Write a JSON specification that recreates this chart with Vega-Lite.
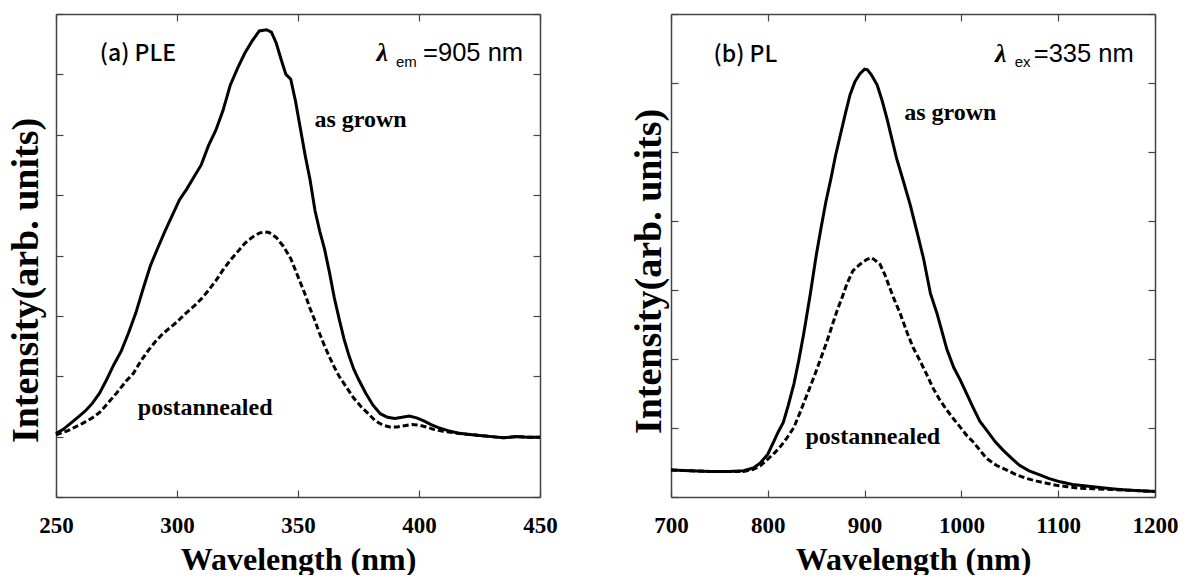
{
  "$schema": "https://vega.github.io/schema/vega-lite/v6.json",
  "padding": {"left": 7, "top": 13, "right": 0, "bottom": 0},
  "autosize": {"type": "pad"},
  "background": "white",
  "bounds": "flush",
  "spacing": 131,
  "config": {
    "view": {"stroke": null},
    "axis": {
      "grid": false,
      "domainColor": "#444",
      "domainWidth": 1.5,
      "tickColor": "#444",
      "tickWidth": 1.2,
      "tickSize": -7,
      "labelFont": "Liberation Serif",
      "labelFontWeight": "bold",
      "labelFontSize": 23,
      "labelColor": "black",
      "labelFlush": false,
      "labelOverlap": false,
      "format": "d",
      "titleFont": "Liberation Serif",
      "titleFontWeight": "bold",
      "titleColor": "black"
    }
  },
  "datasets": {
    "ple": [
      {"wl":250,"intensity":1.05,"sample":"as grown"},{"wl":253,"intensity":1.12,"sample":"as grown"},{"wl":256,"intensity":1.22,"sample":"as grown"},{"wl":259,"intensity":1.32,"sample":"as grown"},{"wl":262,"intensity":1.42,"sample":"as grown"},{"wl":265,"intensity":1.55,"sample":"as grown"},{"wl":268,"intensity":1.72,"sample":"as grown"},{"wl":271,"intensity":1.95,"sample":"as grown"},{"wl":274,"intensity":2.2,"sample":"as grown"},{"wl":277,"intensity":2.42,"sample":"as grown"},{"wl":280,"intensity":2.72,"sample":"as grown"},{"wl":283,"intensity":3.05,"sample":"as grown"},{"wl":286,"intensity":3.45,"sample":"as grown"},{"wl":289,"intensity":3.83,"sample":"as grown"},{"wl":292,"intensity":4.12,"sample":"as grown"},{"wl":295,"intensity":4.4,"sample":"as grown"},{"wl":298,"intensity":4.66,"sample":"as grown"},{"wl":301,"intensity":4.92,"sample":"as grown"},{"wl":304,"intensity":5.1,"sample":"as grown"},{"wl":307,"intensity":5.3,"sample":"as grown"},{"wl":310,"intensity":5.5,"sample":"as grown"},{"wl":313,"intensity":5.82,"sample":"as grown"},{"wl":316,"intensity":6.07,"sample":"as grown"},{"wl":319,"intensity":6.4,"sample":"as grown"},{"wl":322,"intensity":6.82,"sample":"as grown"},{"wl":325,"intensity":7.1,"sample":"as grown"},{"wl":328,"intensity":7.35,"sample":"as grown"},{"wl":331,"intensity":7.55,"sample":"as grown"},{"wl":334,"intensity":7.72,"sample":"as grown"},{"wl":337,"intensity":7.74,"sample":"as grown"},{"wl":339,"intensity":7.7,"sample":"as grown"},{"wl":341,"intensity":7.52,"sample":"as grown"},{"wl":343,"intensity":7.25,"sample":"as grown"},{"wl":345,"intensity":7.0,"sample":"as grown"},{"wl":347,"intensity":6.92,"sample":"as grown"},{"wl":349,"intensity":6.55,"sample":"as grown"},{"wl":351,"intensity":6.1,"sample":"as grown"},{"wl":353,"intensity":5.65,"sample":"as grown"},{"wl":355,"intensity":5.25,"sample":"as grown"},{"wl":357,"intensity":4.75,"sample":"as grown"},{"wl":359,"intensity":4.4,"sample":"as grown"},{"wl":361,"intensity":4.1,"sample":"as grown"},{"wl":363,"intensity":3.72,"sample":"as grown"},{"wl":365,"intensity":3.3,"sample":"as grown"},{"wl":367,"intensity":2.95,"sample":"as grown"},{"wl":369,"intensity":2.62,"sample":"as grown"},{"wl":371,"intensity":2.35,"sample":"as grown"},{"wl":373,"intensity":2.12,"sample":"as grown"},{"wl":375,"intensity":1.95,"sample":"as grown"},{"wl":378,"intensity":1.72,"sample":"as grown"},{"wl":381,"intensity":1.52,"sample":"as grown"},{"wl":384,"intensity":1.38,"sample":"as grown"},{"wl":387,"intensity":1.32,"sample":"as grown"},{"wl":390,"intensity":1.3,"sample":"as grown"},{"wl":393,"intensity":1.32,"sample":"as grown"},{"wl":396,"intensity":1.34,"sample":"as grown"},{"wl":399,"intensity":1.31,"sample":"as grown"},{"wl":402,"intensity":1.26,"sample":"as grown"},{"wl":405,"intensity":1.2,"sample":"as grown"},{"wl":408,"intensity":1.15,"sample":"as grown"},{"wl":412,"intensity":1.1,"sample":"as grown"},{"wl":416,"intensity":1.06,"sample":"as grown"},{"wl":420,"intensity":1.04,"sample":"as grown"},{"wl":425,"intensity":1.02,"sample":"as grown"},{"wl":430,"intensity":1.0,"sample":"as grown"},{"wl":435,"intensity":0.98,"sample":"as grown"},{"wl":440,"intensity":1.0,"sample":"as grown"},{"wl":445,"intensity":0.99,"sample":"as grown"},{"wl":450,"intensity":0.99,"sample":"as grown"},
      {"wl":250,"intensity":1.03,"sample":"postannealed"},{"wl":255,"intensity":1.1,"sample":"postannealed"},{"wl":261,"intensity":1.22,"sample":"postannealed"},{"wl":265,"intensity":1.31,"sample":"postannealed"},{"wl":268,"intensity":1.4,"sample":"postannealed"},{"wl":272,"intensity":1.58,"sample":"postannealed"},{"wl":275,"intensity":1.72,"sample":"postannealed"},{"wl":279,"intensity":1.92,"sample":"postannealed"},{"wl":282,"intensity":2.05,"sample":"postannealed"},{"wl":285,"intensity":2.25,"sample":"postannealed"},{"wl":288,"intensity":2.42,"sample":"postannealed"},{"wl":291,"intensity":2.57,"sample":"postannealed"},{"wl":294,"intensity":2.7,"sample":"postannealed"},{"wl":297,"intensity":2.8,"sample":"postannealed"},{"wl":300,"intensity":2.9,"sample":"postannealed"},{"wl":303,"intensity":3.02,"sample":"postannealed"},{"wl":307,"intensity":3.16,"sample":"postannealed"},{"wl":310,"intensity":3.28,"sample":"postannealed"},{"wl":313,"intensity":3.42,"sample":"postannealed"},{"wl":316,"intensity":3.58,"sample":"postannealed"},{"wl":319,"intensity":3.76,"sample":"postannealed"},{"wl":322,"intensity":3.92,"sample":"postannealed"},{"wl":325,"intensity":4.06,"sample":"postannealed"},{"wl":328,"intensity":4.2,"sample":"postannealed"},{"wl":331,"intensity":4.3,"sample":"postannealed"},{"wl":334,"intensity":4.37,"sample":"postannealed"},{"wl":336,"intensity":4.39,"sample":"postannealed"},{"wl":338,"intensity":4.38,"sample":"postannealed"},{"wl":341,"intensity":4.3,"sample":"postannealed"},{"wl":344,"intensity":4.15,"sample":"postannealed"},{"wl":347,"intensity":3.95,"sample":"postannealed"},{"wl":350,"intensity":3.65,"sample":"postannealed"},{"wl":353,"intensity":3.35,"sample":"postannealed"},{"wl":355,"intensity":3.12,"sample":"postannealed"},{"wl":357,"intensity":2.92,"sample":"postannealed"},{"wl":359,"intensity":2.7,"sample":"postannealed"},{"wl":361,"intensity":2.5,"sample":"postannealed"},{"wl":363,"intensity":2.32,"sample":"postannealed"},{"wl":365,"intensity":2.15,"sample":"postannealed"},{"wl":367,"intensity":2.0,"sample":"postannealed"},{"wl":370,"intensity":1.82,"sample":"postannealed"},{"wl":373,"intensity":1.64,"sample":"postannealed"},{"wl":376,"intensity":1.5,"sample":"postannealed"},{"wl":379,"intensity":1.38,"sample":"postannealed"},{"wl":382,"intensity":1.26,"sample":"postannealed"},{"wl":385,"intensity":1.19,"sample":"postannealed"},{"wl":388,"intensity":1.16,"sample":"postannealed"},{"wl":391,"intensity":1.16,"sample":"postannealed"},{"wl":394,"intensity":1.18,"sample":"postannealed"},{"wl":397,"intensity":1.2,"sample":"postannealed"},{"wl":400,"intensity":1.19,"sample":"postannealed"},{"wl":403,"intensity":1.16,"sample":"postannealed"},{"wl":406,"intensity":1.12,"sample":"postannealed"},{"wl":410,"intensity":1.09,"sample":"postannealed"},{"wl":415,"intensity":1.06,"sample":"postannealed"},{"wl":420,"intensity":1.04,"sample":"postannealed"},{"wl":425,"intensity":1.02,"sample":"postannealed"},{"wl":430,"intensity":1.0,"sample":"postannealed"},{"wl":435,"intensity":0.98,"sample":"postannealed"},{"wl":440,"intensity":1.0,"sample":"postannealed"},{"wl":445,"intensity":0.99,"sample":"postannealed"},{"wl":450,"intensity":0.99,"sample":"postannealed"}
    ],
    "pl": [
      {"wl":700,"intensity":0.39,"sample":"as grown"},{"wl":720,"intensity":0.38,"sample":"as grown"},{"wl":740,"intensity":0.37,"sample":"as grown"},{"wl":760,"intensity":0.37,"sample":"as grown"},{"wl":775,"intensity":0.38,"sample":"as grown"},{"wl":785,"intensity":0.42,"sample":"as grown"},{"wl":792,"intensity":0.49,"sample":"as grown"},{"wl":800,"intensity":0.62,"sample":"as grown"},{"wl":806,"intensity":0.8,"sample":"as grown"},{"wl":811,"intensity":0.95,"sample":"as grown"},{"wl":816,"intensity":1.08,"sample":"as grown"},{"wl":821,"intensity":1.32,"sample":"as grown"},{"wl":827,"intensity":1.64,"sample":"as grown"},{"wl":832,"intensity":1.98,"sample":"as grown"},{"wl":837,"intensity":2.36,"sample":"as grown"},{"wl":844,"intensity":2.95,"sample":"as grown"},{"wl":850,"intensity":3.5,"sample":"as grown"},{"wl":855,"intensity":3.9,"sample":"as grown"},{"wl":860,"intensity":4.28,"sample":"as grown"},{"wl":865,"intensity":4.6,"sample":"as grown"},{"wl":870,"intensity":4.95,"sample":"as grown"},{"wl":875,"intensity":5.25,"sample":"as grown"},{"wl":880,"intensity":5.55,"sample":"as grown"},{"wl":885,"intensity":5.83,"sample":"as grown"},{"wl":890,"intensity":6.02,"sample":"as grown"},{"wl":895,"intensity":6.13,"sample":"as grown"},{"wl":900,"intensity":6.2,"sample":"as grown"},{"wl":903,"intensity":6.19,"sample":"as grown"},{"wl":907,"intensity":6.12,"sample":"as grown"},{"wl":913,"intensity":5.97,"sample":"as grown"},{"wl":918,"intensity":5.75,"sample":"as grown"},{"wl":923,"intensity":5.49,"sample":"as grown"},{"wl":928,"intensity":5.2,"sample":"as grown"},{"wl":933,"intensity":4.91,"sample":"as grown"},{"wl":940,"intensity":4.58,"sample":"as grown"},{"wl":947,"intensity":4.24,"sample":"as grown"},{"wl":954,"intensity":3.85,"sample":"as grown"},{"wl":961,"intensity":3.45,"sample":"as grown"},{"wl":968,"intensity":2.95,"sample":"as grown"},{"wl":975,"intensity":2.65,"sample":"as grown"},{"wl":985,"intensity":2.14,"sample":"as grown"},{"wl":992,"intensity":1.88,"sample":"as grown"},{"wl":999,"intensity":1.69,"sample":"as grown"},{"wl":1006,"intensity":1.48,"sample":"as grown"},{"wl":1012,"intensity":1.3,"sample":"as grown"},{"wl":1019,"intensity":1.1,"sample":"as grown"},{"wl":1026,"intensity":0.97,"sample":"as grown"},{"wl":1035,"intensity":0.8,"sample":"as grown"},{"wl":1043,"intensity":0.68,"sample":"as grown"},{"wl":1052,"intensity":0.56,"sample":"as grown"},{"wl":1060,"intensity":0.46,"sample":"as grown"},{"wl":1070,"intensity":0.38,"sample":"as grown"},{"wl":1081,"intensity":0.32,"sample":"as grown"},{"wl":1090,"intensity":0.27,"sample":"as grown"},{"wl":1102,"intensity":0.22,"sample":"as grown"},{"wl":1115,"intensity":0.18,"sample":"as grown"},{"wl":1136,"intensity":0.15,"sample":"as grown"},{"wl":1155,"intensity":0.12,"sample":"as grown"},{"wl":1170,"intensity":0.1,"sample":"as grown"},{"wl":1185,"intensity":0.09,"sample":"as grown"},{"wl":1200,"intensity":0.08,"sample":"as grown"},
      {"wl":700,"intensity":0.39,"sample":"postannealed"},{"wl":720,"intensity":0.38,"sample":"postannealed"},{"wl":740,"intensity":0.37,"sample":"postannealed"},{"wl":760,"intensity":0.37,"sample":"postannealed"},{"wl":775,"intensity":0.37,"sample":"postannealed"},{"wl":785,"intensity":0.4,"sample":"postannealed"},{"wl":792,"intensity":0.45,"sample":"postannealed"},{"wl":800,"intensity":0.55,"sample":"postannealed"},{"wl":807,"intensity":0.64,"sample":"postannealed"},{"wl":813,"intensity":0.73,"sample":"postannealed"},{"wl":820,"intensity":0.86,"sample":"postannealed"},{"wl":827,"intensity":1.01,"sample":"postannealed"},{"wl":834,"intensity":1.25,"sample":"postannealed"},{"wl":841,"intensity":1.5,"sample":"postannealed"},{"wl":848,"intensity":1.75,"sample":"postannealed"},{"wl":854,"intensity":1.98,"sample":"postannealed"},{"wl":861,"intensity":2.25,"sample":"postannealed"},{"wl":868,"intensity":2.55,"sample":"postannealed"},{"wl":872,"intensity":2.72,"sample":"postannealed"},{"wl":877,"intensity":2.9,"sample":"postannealed"},{"wl":882,"intensity":3.1,"sample":"postannealed"},{"wl":888,"intensity":3.28,"sample":"postannealed"},{"wl":895,"intensity":3.37,"sample":"postannealed"},{"wl":902,"intensity":3.44,"sample":"postannealed"},{"wl":907,"intensity":3.47,"sample":"postannealed"},{"wl":911,"intensity":3.43,"sample":"postannealed"},{"wl":916,"intensity":3.37,"sample":"postannealed"},{"wl":921,"intensity":3.22,"sample":"postannealed"},{"wl":926,"intensity":3.03,"sample":"postannealed"},{"wl":931,"intensity":2.85,"sample":"postannealed"},{"wl":937,"intensity":2.65,"sample":"postannealed"},{"wl":944,"intensity":2.38,"sample":"postannealed"},{"wl":950,"intensity":2.17,"sample":"postannealed"},{"wl":957,"intensity":1.98,"sample":"postannealed"},{"wl":964,"intensity":1.78,"sample":"postannealed"},{"wl":971,"intensity":1.57,"sample":"postannealed"},{"wl":978,"intensity":1.4,"sample":"postannealed"},{"wl":985,"intensity":1.26,"sample":"postannealed"},{"wl":992,"intensity":1.13,"sample":"postannealed"},{"wl":999,"intensity":1.01,"sample":"postannealed"},{"wl":1005,"intensity":0.9,"sample":"postannealed"},{"wl":1012,"intensity":0.8,"sample":"postannealed"},{"wl":1019,"intensity":0.68,"sample":"postannealed"},{"wl":1026,"intensity":0.56,"sample":"postannealed"},{"wl":1036,"intensity":0.46,"sample":"postannealed"},{"wl":1047,"intensity":0.39,"sample":"postannealed"},{"wl":1057,"intensity":0.32,"sample":"postannealed"},{"wl":1067,"intensity":0.27,"sample":"postannealed"},{"wl":1078,"intensity":0.23,"sample":"postannealed"},{"wl":1088,"intensity":0.2,"sample":"postannealed"},{"wl":1098,"intensity":0.17,"sample":"postannealed"},{"wl":1109,"intensity":0.15,"sample":"postannealed"},{"wl":1120,"intensity":0.13,"sample":"postannealed"},{"wl":1136,"intensity":0.12,"sample":"postannealed"},{"wl":1155,"intensity":0.11,"sample":"postannealed"},{"wl":1170,"intensity":0.1,"sample":"postannealed"},{"wl":1185,"intensity":0.09,"sample":"postannealed"},{"wl":1200,"intensity":0.08,"sample":"postannealed"}
    ],
    "plenotes": [
      {"wl":268.1,"val":7.33,"text":"(a) PLE","role":"tag"},
      {"wl":382.4,"val":7.35,"text":"λ","role":"lam"},
      {"wl":390.5,"val":7.2,"text":"em","role":"sub"},
      {"wl":443,"val":7.35,"text":"=905 nm","role":"eq"},
      {"wl":356.8,"val":6.24,"text":"as grown","role":"sample"},
      {"wl":283.8,"val":1.47,"text":"postannealed","role":"sample"}
    ],
    "plnotes": [
      {"wl":744,"val":6.41,"text":"(b) PL","role":"tag"},
      {"wl":1034.7,"val":6.42,"text":"λ","role":"lam"},
      {"wl":1055,"val":6.3,"text":"ex","role":"sub"},
      {"wl":1178,"val":6.42,"text":"=335 nm","role":"eq"},
      {"wl":940.9,"val":5.56,"text":"as grown","role":"sample"},
      {"wl":838.9,"val":0.87,"text":"postannealed","role":"sample"}
    ]
  },
  "hconcat": [
    {
      "width": 484,
      "height": 483,
      "layer": [
        {
          "data": {"name": "ple"},
          "transform": [{"filter": "datum.sample === 'as grown'"}],
          "mark": {"type": "line", "color": "black", "strokeWidth": 3},
          "encoding": {
            "x": {"field": "wl", "type": "quantitative", "scale": {"domain": [250, 450], "nice": false, "zero": false},
                  "axis": {"orient": "bottom", "values": [250, 300, 350, 400, 450], "labelPadding": 24, "title": "Wavelength (nm)", "titleFontSize": 32, "titlePadding": 7}},
            "y": {"field": "intensity", "type": "quantitative", "scale": {"domain": [0, 8], "nice": false},
                  "axis": {"orient": "left", "values": [0, 1, 2, 3, 4, 5, 6, 7, 8], "labels": false, "title": "Intensity(arb. units)", "titleFontSize": 38, "titlePadding": 10, "titleY": 266}}
          }
        },
        {
          "data": {"name": "ple"},
          "transform": [{"filter": "datum.sample === 'postannealed'"}],
          "mark": {"type": "line", "color": "black", "strokeWidth": 3, "strokeDash": [6, 3]},
          "encoding": {
            "x": {"field": "wl", "type": "quantitative", "scale": {"domain": [250, 450], "nice": false, "zero": false},
                  "axis": {"orient": "top", "values": [250, 300, 350, 400, 450], "labels": false, "title": null}},
            "y": {"field": "intensity", "type": "quantitative", "scale": {"domain": [0, 8], "nice": false},
                  "axis": {"orient": "right", "values": [0, 1, 2, 3, 4, 5, 6, 7, 8], "labels": false, "title": null}}
          }
        },
        {
          "data": {"name": "plenotes"},
          "transform": [{"filter": "datum.role === 'tag'"}],
          "mark": {"type": "text", "font": "Noto Sans CJK JP", "fontSize": 23, "fontWeight": 500, "align": "left", "baseline": "middle", "color": "black"},
          "encoding": {
            "x": {"field": "wl", "type": "quantitative", "scale": {"domain": [250, 450], "nice": false, "zero": false}, "axis": null},
            "y": {"field": "val", "type": "quantitative", "scale": {"domain": [0, 8], "nice": false}, "axis": null},
            "text": {"field": "text"}
          }
        },
        {
          "data": {"name": "plenotes"},
          "transform": [{"filter": "datum.role === 'lam'"}],
          "mark": {"type": "text", "font": "Liberation Serif", "fontSize": 26, "fontWeight": "bold", "fontStyle": "italic", "align": "left", "baseline": "middle", "color": "black"},
          "encoding": {
            "x": {"field": "wl", "type": "quantitative", "scale": {"domain": [250, 450], "nice": false, "zero": false}, "axis": null},
            "y": {"field": "val", "type": "quantitative", "scale": {"domain": [0, 8], "nice": false}, "axis": null},
            "text": {"field": "text"}
          }
        },
        {
          "data": {"name": "plenotes"},
          "transform": [{"filter": "datum.role === 'sub'"}],
          "mark": {"type": "text", "font": "Liberation Sans", "fontSize": 15, "align": "left", "baseline": "middle", "color": "black"},
          "encoding": {
            "x": {"field": "wl", "type": "quantitative", "scale": {"domain": [250, 450], "nice": false, "zero": false}, "axis": null},
            "y": {"field": "val", "type": "quantitative", "scale": {"domain": [0, 8], "nice": false}, "axis": null},
            "text": {"field": "text"}
          }
        },
        {
          "data": {"name": "plenotes"},
          "transform": [{"filter": "datum.role === 'eq'"}],
          "mark": {"type": "text", "font": "Liberation Sans", "fontSize": 25.5, "align": "right", "baseline": "middle", "color": "black"},
          "encoding": {
            "x": {"field": "wl", "type": "quantitative", "scale": {"domain": [250, 450], "nice": false, "zero": false}, "axis": null},
            "y": {"field": "val", "type": "quantitative", "scale": {"domain": [0, 8], "nice": false}, "axis": null},
            "text": {"field": "text"}
          }
        },
        {
          "data": {"name": "plenotes"},
          "transform": [{"filter": "datum.role === 'sample'"}],
          "mark": {"type": "text", "font": "Liberation Serif", "fontSize": 24, "fontWeight": "bold", "align": "left", "baseline": "middle", "color": "black"},
          "encoding": {
            "x": {"field": "wl", "type": "quantitative", "scale": {"domain": [250, 450], "nice": false, "zero": false}, "axis": null},
            "y": {"field": "val", "type": "quantitative", "scale": {"domain": [0, 8], "nice": false}, "axis": null},
            "text": {"field": "text"}
          }
        }
      ]
    },
    {
      "width": 484,
      "height": 483,
      "layer": [
        {
          "data": {"name": "pl"},
          "transform": [{"filter": "datum.sample === 'as grown'"}],
          "mark": {"type": "line", "color": "black", "strokeWidth": 3},
          "encoding": {
            "x": {"field": "wl", "type": "quantitative", "scale": {"domain": [700, 1200], "nice": false, "zero": false},
                  "axis": {"orient": "bottom", "values": [700, 800, 900, 1000, 1100, 1200], "labelPadding": 24, "title": "Wavelength (nm)", "titleFontSize": 32, "titlePadding": 7}},
            "y": {"field": "intensity", "type": "quantitative", "scale": {"domain": [0, 7], "nice": false},
                  "axis": {"orient": "left", "values": [0, 1, 2, 3, 4, 5, 6, 7], "labels": false, "title": "Intensity(arb. units)", "titleFontSize": 38, "titlePadding": 2, "titleY": 257}}
          }
        },
        {
          "data": {"name": "pl"},
          "transform": [{"filter": "datum.sample === 'postannealed'"}],
          "mark": {"type": "line", "color": "black", "strokeWidth": 3, "strokeDash": [6, 3]},
          "encoding": {
            "x": {"field": "wl", "type": "quantitative", "scale": {"domain": [700, 1200], "nice": false, "zero": false},
                  "axis": {"orient": "top", "values": [700, 800, 900, 1000, 1100, 1200], "labels": false, "title": null}},
            "y": {"field": "intensity", "type": "quantitative", "scale": {"domain": [0, 7], "nice": false},
                  "axis": {"orient": "right", "values": [0, 1, 2, 3, 4, 5, 6, 7], "labels": false, "title": null}}
          }
        },
        {
          "data": {"name": "plnotes"},
          "transform": [{"filter": "datum.role === 'tag'"}],
          "mark": {"type": "text", "font": "Noto Sans CJK JP", "fontSize": 23, "fontWeight": 500, "align": "left", "baseline": "middle", "color": "black"},
          "encoding": {
            "x": {"field": "wl", "type": "quantitative", "scale": {"domain": [700, 1200], "nice": false, "zero": false}, "axis": null},
            "y": {"field": "val", "type": "quantitative", "scale": {"domain": [0, 7], "nice": false}, "axis": null},
            "text": {"field": "text"}
          }
        },
        {
          "data": {"name": "plnotes"},
          "transform": [{"filter": "datum.role === 'lam'"}],
          "mark": {"type": "text", "font": "Liberation Serif", "fontSize": 26, "fontWeight": "bold", "fontStyle": "italic", "align": "left", "baseline": "middle", "color": "black"},
          "encoding": {
            "x": {"field": "wl", "type": "quantitative", "scale": {"domain": [700, 1200], "nice": false, "zero": false}, "axis": null},
            "y": {"field": "val", "type": "quantitative", "scale": {"domain": [0, 7], "nice": false}, "axis": null},
            "text": {"field": "text"}
          }
        },
        {
          "data": {"name": "plnotes"},
          "transform": [{"filter": "datum.role === 'sub'"}],
          "mark": {"type": "text", "font": "Liberation Sans", "fontSize": 15, "align": "left", "baseline": "middle", "color": "black"},
          "encoding": {
            "x": {"field": "wl", "type": "quantitative", "scale": {"domain": [700, 1200], "nice": false, "zero": false}, "axis": null},
            "y": {"field": "val", "type": "quantitative", "scale": {"domain": [0, 7], "nice": false}, "axis": null},
            "text": {"field": "text"}
          }
        },
        {
          "data": {"name": "plnotes"},
          "transform": [{"filter": "datum.role === 'eq'"}],
          "mark": {"type": "text", "font": "Liberation Sans", "fontSize": 25.5, "align": "right", "baseline": "middle", "color": "black"},
          "encoding": {
            "x": {"field": "wl", "type": "quantitative", "scale": {"domain": [700, 1200], "nice": false, "zero": false}, "axis": null},
            "y": {"field": "val", "type": "quantitative", "scale": {"domain": [0, 7], "nice": false}, "axis": null},
            "text": {"field": "text"}
          }
        },
        {
          "data": {"name": "plnotes"},
          "transform": [{"filter": "datum.role === 'sample'"}],
          "mark": {"type": "text", "font": "Liberation Serif", "fontSize": 24, "fontWeight": "bold", "align": "left", "baseline": "middle", "color": "black"},
          "encoding": {
            "x": {"field": "wl", "type": "quantitative", "scale": {"domain": [700, 1200], "nice": false, "zero": false}, "axis": null},
            "y": {"field": "val", "type": "quantitative", "scale": {"domain": [0, 7], "nice": false}, "axis": null},
            "text": {"field": "text"}
          }
        }
      ]
    }
  ]
}
